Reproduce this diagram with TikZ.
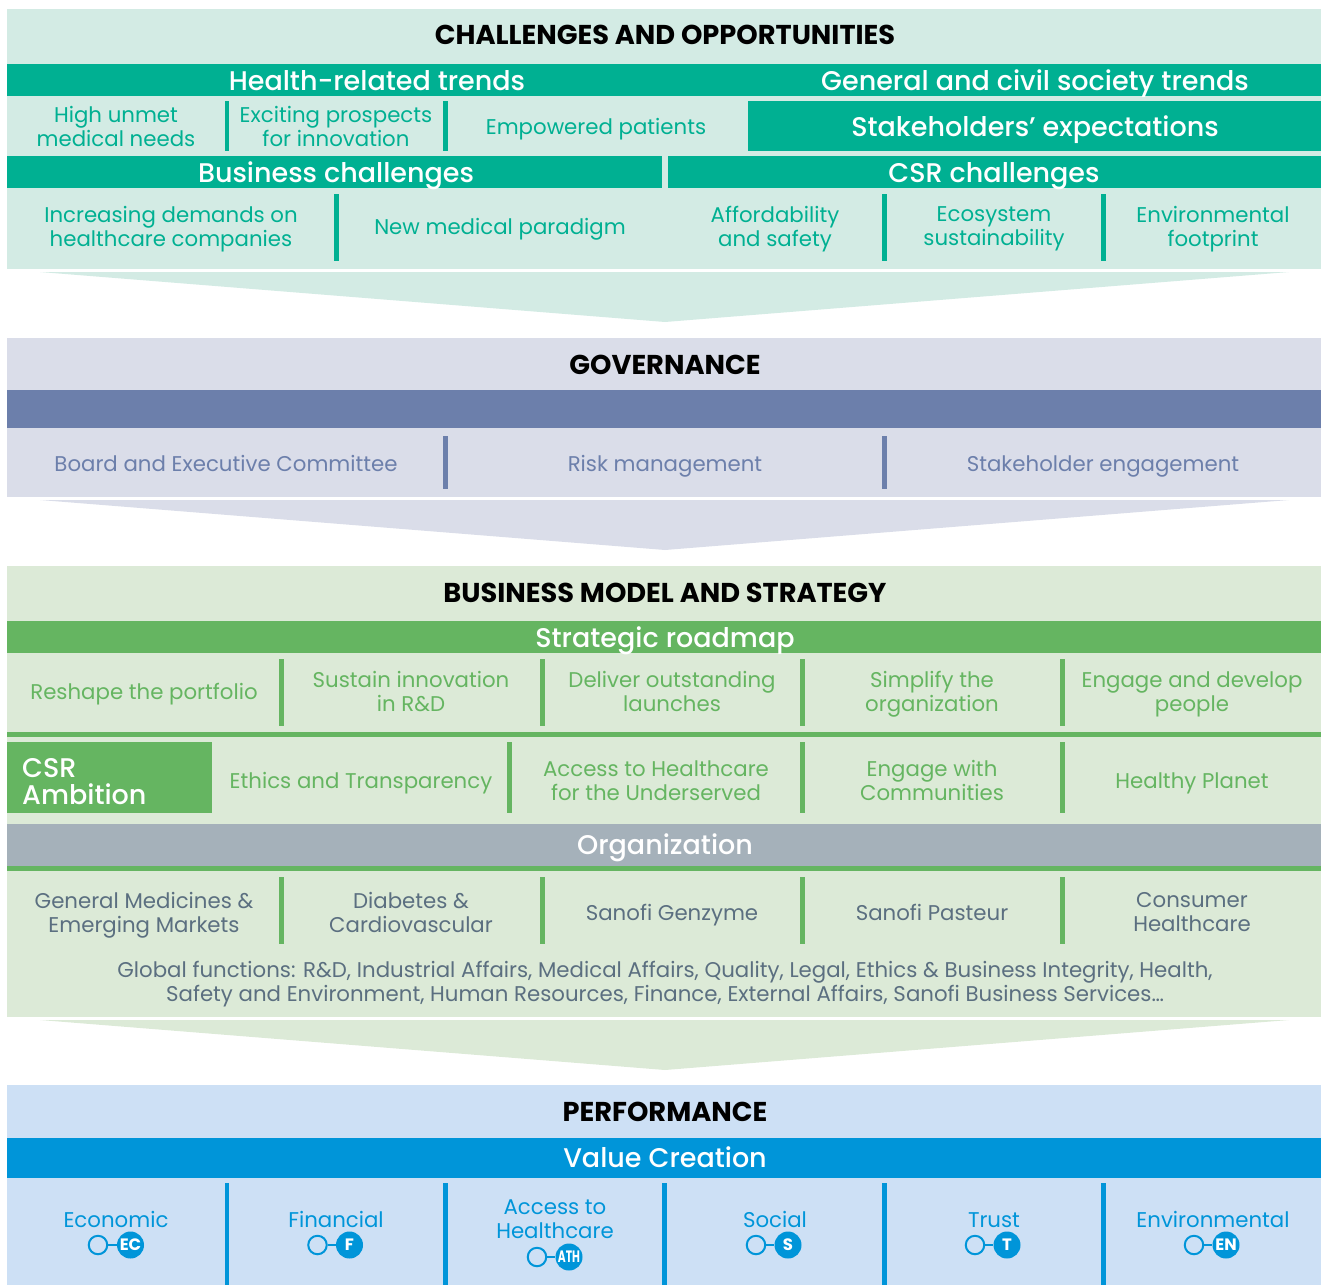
\documentclass[tikz,border=0pt]{standalone}
\usepackage{fontspec}
\setmainfont{Poppins}
\newfontfamily\headfont{Poppins Medium}
\usepackage{tikz}

\definecolor{tealbg}{HTML}{D3EBE4}
\definecolor{teal}{HTML}{00B092}
\definecolor{slatebg}{HTML}{DADDE9}
\definecolor{slate}{HTML}{6C7FAB}
\definecolor{greenbg}{HTML}{DCEAD7}
\definecolor{grn}{HTML}{65B561}
\definecolor{orgbar}{HTML}{A5B1BA}
\definecolor{orgtxt}{HTML}{5B6F80}
\definecolor{bluebg}{HTML}{CDE0F5}
\definecolor{blu}{HTML}{0095D9}

\tikzset{
  struts/.style={execute at begin node=\strut, execute at end node=\strut, inner sep=0pt},
  title/.style={struts, yshift=-4.9pt, font=\bfseries\fontsize{27.25}{28}\selectfont, text=black},
  head/.style={struts, yshift=-3.4pt, font=\headfont\fontsize{27}{28}\selectfont, text=white},
  item/.style={struts, yshift=-2.8pt, font=\fontsize{21.3}{24}\selectfont, align=center},
  gone/.style={circle, draw=blu, line width=2pt, minimum size=18.5pt, inner sep=0pt},
  gtwo/.style={circle, fill=blu, minimum size=27pt, inner sep=0pt, text=white, font=\bfseries\fontsize{16.5}{16.5}\selectfont}
}

\begin{document}
\begin{tikzpicture}[x=1pt,y=-1pt]
\useasboundingbox (0,0) rectangle (1321,1285);

% challenges
\fill[tealbg] (7,9) rectangle (1321,269);
\fill[tealbg] (40,272) -- (1289,272) -- (665,322) -- cycle;
\fill[teal] (7,64) rectangle (1321,96);
\fill[teal] (748,101) rectangle (1321,151);
\fill[teal] (7,156) rectangle (662,188);
\fill[teal] (668,156) rectangle (1321,188);
\fill[teal] (224.5,101) rectangle (229,151);
\fill[teal] (443,101) rectangle (448,151);
\fill[teal] (334,194) rectangle (338.5,261);
\fill[teal] (882,194) rectangle (887,261);
\fill[teal] (1101,194) rectangle (1106,261);
\node[title] (chal) at (665,34) {CHALLENGES AND OPPORTUNITIES};
\node[head] (health) at (377,81) {Health-related trends};
\node[head] (civil) at (1035,81) {General and civil society trends};
\node[item, text=teal] (unmet) at (116,127) {High unmet\\medical needs};
\node[item, text=teal] (prosp) at (336,127) {Exciting prospects\\for innovation};
\node[item, text=teal] (empow) at (596,127) {Empowered patients};
\node[head] (stake) at (1035,127) {Stakeholders’ expectations};
\node[head] (busi) at (336,173) {Business challenges};
\node[head] (csrc) at (994,173) {CSR challenges};
\node[item, text=teal] (deman) at (171,227) {Increasing demands on\\healthcare companies};
\node[item, text=teal] (parad) at (500,227) {New medical paradigm};
\node[item, text=teal] (afford) at (775,227) {Affordability\\and safety};
\node[item, text=teal] (ecosys) at (994,227) {Ecosystem\\sustainability};
\node[item, text=teal] (foot) at (1213,227) {Environmental\\footprint};

% governance
\fill[slatebg] (7,338) rectangle (1321,497);
\fill[slatebg] (40,500) -- (1289,500) -- (665,550) -- cycle;
\fill[slate] (7,390) rectangle (1321,428);
\fill[slate] (443,436) rectangle (448,489);
\fill[slate] (882,436) rectangle (887,489);
\node[title] (gov) at (665,364) {GOVERNANCE};
\node[item, text=slate] (board) at (226,464) {Board and Executive Committee};
\node[item, text=slate] (risk) at (665,464) {Risk management};
\node[item, text=slate] (engage) at (1103,464) {Stakeholder engagement};

% business model
\fill[greenbg] (7,566) rectangle (1321,1017);
\fill[greenbg] (40,1020) -- (1289,1020) -- (665,1070) -- cycle;
\fill[grn] (7,621) rectangle (1321,653);
\fill[grn] (279,659) rectangle (284,726);
\fill[grn] (540,659) rectangle (544.5,726);
\fill[grn] (800,659) rectangle (805,726);
\fill[grn] (1060,659) rectangle (1065,726);
\fill[grn] (7,732) rectangle (1321,737);
\fill[grn] (7,742) rectangle (212,813);
\fill[grn] (507,742) rectangle (512,813);
\fill[grn] (800,742) rectangle (805,813);
\fill[grn] (1060,742) rectangle (1065,813);
\fill[orgbar] (7,824) rectangle (1321,866);
\fill[grn] (7,866) rectangle (1321,871);
\fill[grn] (279,877) rectangle (284,944);
\fill[grn] (540,877) rectangle (544.5,944);
\fill[grn] (800,877) rectangle (805,944);
\fill[grn] (1060,877) rectangle (1065,944);
\node[title] (model) at (665,592) {BUSINESS MODEL AND STRATEGY};
\node[head] (road) at (665,638) {Strategic roadmap};
\node[item, text=grn] (port) at (144,692) {Reshape the portfolio};
\node[item, text=grn] (innov) at (411,692) {Sustain innovation\\in R\&D};
\node[item, text=grn] (launch) at (672,692) {Deliver outstanding\\launches};
\node[item, text=grn] (simpl) at (932,692) {Simplify the\\organization};
\node[item, text=grn] (devel) at (1192,692) {Engage and develop\\people};
\node[head, align=left, anchor=west, font=\headfont\fontsize{27}{27}\selectfont] (ambit) at (22,782.5) {CSR\\Ambition};
\node[item, text=grn] (ethic) at (361,781) {Ethics and Transparency};
\node[item, text=grn] (under) at (656,781) {Access to Healthcare\\for the Underserved};
\node[item, text=grn] (commu) at (932,781) {Engage with\\Communities};
\node[item, text=grn] (planet) at (1192,781) {Healthy Planet};
\node[head] (org) at (665,845) {Organization};
\node[item, text=orgtxt] (gem) at (144,913) {General Medicines \&\\Emerging Markets};
\node[item, text=orgtxt] (diab) at (411,913) {Diabetes \&\\Cardiovascular};
\node[item, text=orgtxt] (genz) at (672,913) {Sanofi Genzyme};
\node[item, text=orgtxt] (past) at (932,913) {Sanofi Pasteur};
\node[item, text=orgtxt] (cons) at (1192,913) {Consumer\\Healthcare};
\node[item, text=orgtxt] (glob) at (665,982) {Global functions: R\&D, Industrial Affairs, Medical Affairs, Quality, Legal, Ethics \& Business Integrity, Health,\\Safety and Environment, Human Resources, Finance, External Affairs, Sanofi Business Services…};

% performance
\fill[bluebg] (7,1085) rectangle (1321,1285);
\fill[blu] (7,1138) rectangle (1321,1178);
\fill[blu] (224.5,1183) rectangle (229,1285);
\fill[blu] (443,1183) rectangle (448,1285);
\fill[blu] (662,1183) rectangle (667,1285);
\fill[blu] (882,1183) rectangle (887,1285);
\fill[blu] (1101,1183) rectangle (1106,1285);
\node[title] (perf) at (665,1111) {PERFORMANCE};
\node[head] (value) at (665,1158) {Value Creation};
\node[item, text=blu] (econ) at (116,1220) {Economic};
\node[item, text=blu] (fin) at (336,1220) {Financial};
\node[item, text=blu] (ath) at (555,1220) {Access to\\Healthcare};
\node[item, text=blu] (soc) at (775,1220) {Social};
\node[item, text=blu] (tru) at (994,1220) {Trust};
\node[item, text=blu] (env) at (1213,1220) {Environmental};
\node[gone] (oec) at (98,1245) {};
\node[gtwo] (fec) at (130.5,1245) {EC};
\draw[blu, line width=2pt] (oec) -- (fec);
\node[gone] (of) at (317.5,1245) {};
\node[gtwo] (ff) at (349.5,1245) {F};
\draw[blu, line width=2pt] (of) -- (ff);
\node[gone] (oath) at (537,1257) {};
\node[gtwo] (fath) at (569,1257) {\scalebox{0.65}[1]{ATH}};
\draw[blu, line width=2pt] (oath) -- (fath);
\node[gone] (os) at (756,1245) {};
\node[gtwo] (fs) at (788,1245) {S};
\draw[blu, line width=2pt] (os) -- (fs);
\node[gone] (ot) at (975,1245) {};
\node[gtwo] (ft) at (1007,1245) {T};
\draw[blu, line width=2pt] (ot) -- (ft);
\node[gone] (oen) at (1194,1245) {};
\node[gtwo] (fen) at (1226,1245) {EN};
\draw[blu, line width=2pt] (oen) -- (fen);

\end{tikzpicture}
\end{document}
